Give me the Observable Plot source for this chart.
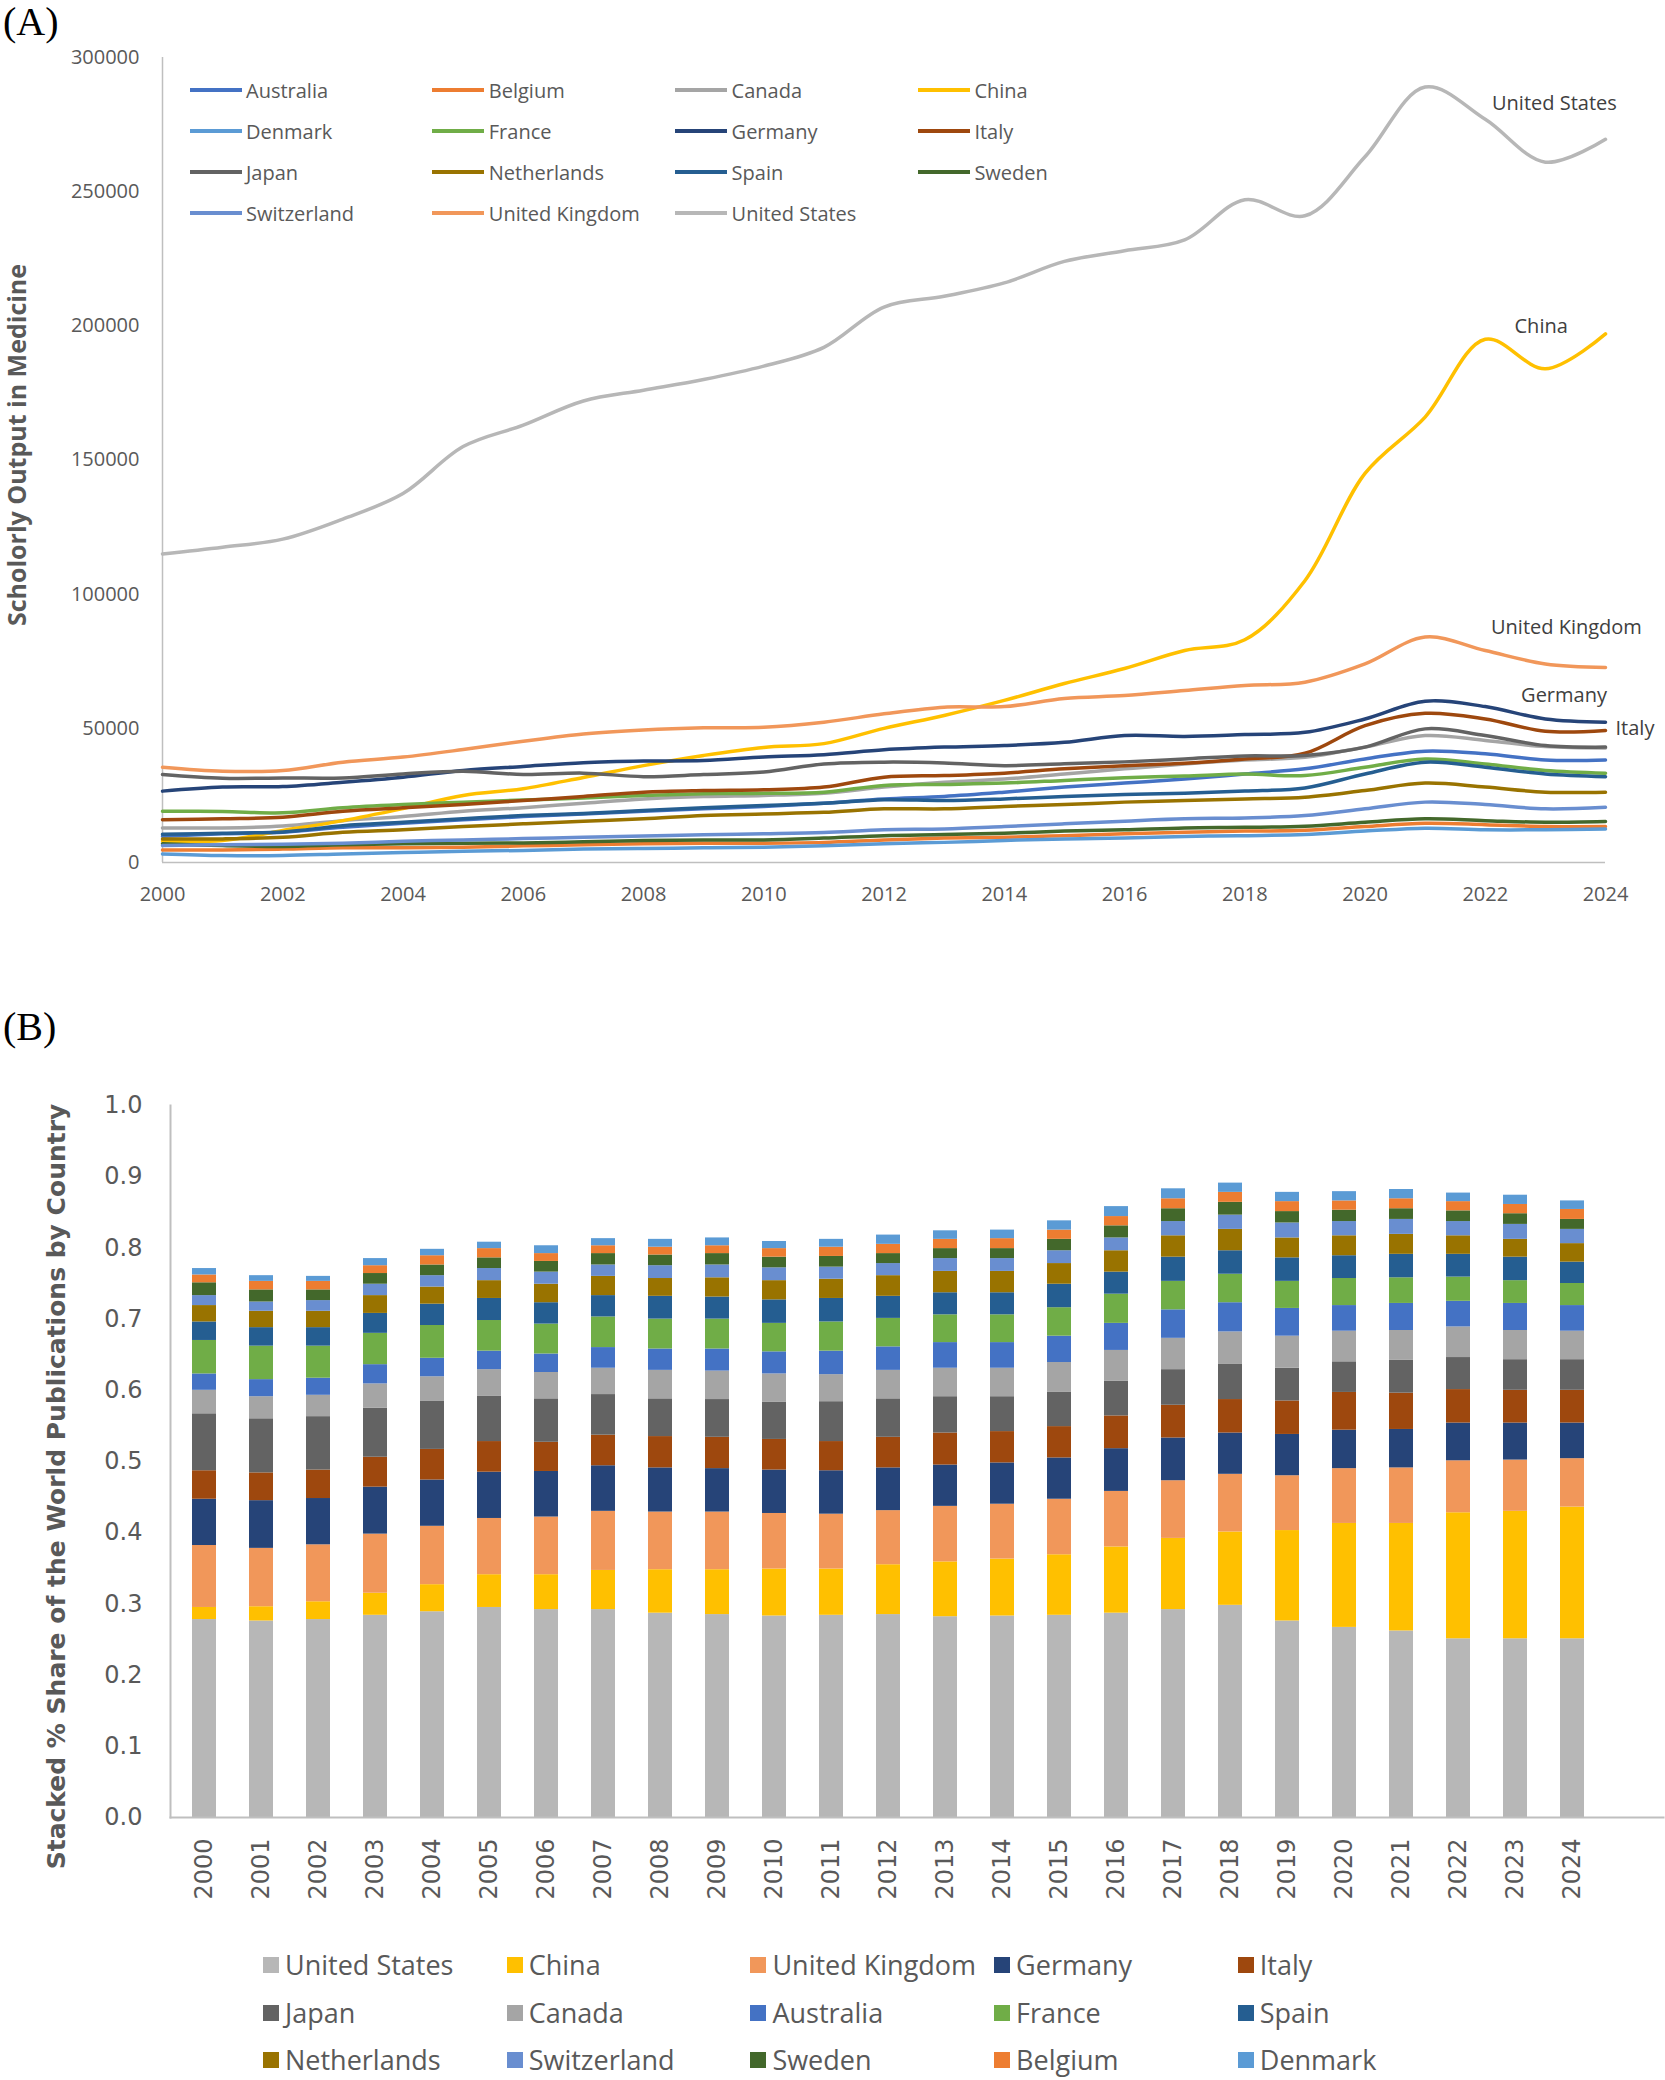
<!DOCTYPE html>
<html>
<head>
<meta charset="utf-8">
<script src="https://cdn.jsdelivr.net/npm/d3@7"></script>
<script src="https://cdn.jsdelivr.net/npm/@observablehq/plot@0.6"></script>
<style>
  body { margin: 0; background: #fff; }
  #page { position: relative; width: 1665px; height: 2080px; overflow: hidden; background: #fff; font-family: 'Open Sans', sans-serif; color: #595959; }
  .panel { position: absolute; left: 3px; font-family: 'Liberation Serif', 'Times New Roman', serif; font-size: 40px; line-height: 44px; color: #000; }
  .chart { position: absolute; left: 0; }
  .legA { position: absolute; display: flex; align-items: center; height: 30px; font-size: 20px; white-space: nowrap; color: #595959; }
  .legA .ln { display: inline-block; width: 52px; height: 3.5px; margin-right: 4.5px; }
  .legB { position: absolute; display: flex; align-items: center; height: 28px; line-height: 28px; font-size: 27px; white-space: nowrap; color: #595959; }
  .legB .sw { display: inline-block; width: 16px; height: 16px; margin-right: 6px; }
</style>
</head>
<body>
<div id="page">
  <div class="panel" style="top:0px;">(A)</div>
  <div id="chartA" class="chart" style="top:0;"></div>
  <div id="legendA"></div>
  <div class="panel" style="top:1005px;">(B)</div>
  <div id="chartB" class="chart" style="top:1060px;"></div>
  <div id="legendB"></div>
</div>
<script>
// ---------- categories ----------
const years = [2000,2001,2002,2003,2004,2005,2006,2007,2008,2009,2010,2011,2012,2013,2014,2015,2016,2017,2018,2019,2020,2021,2022,2023,2024];
const countries = ["Australia","Belgium","Canada","China","Denmark","France","Germany","Italy","Japan","Netherlands","Spain","Sweden","Switzerland","United Kingdom","United States"];
const colors = ["#4472C4","#ED7D31","#A5A5A5","#FFC000","#5B9BD5","#70AD47","#264478","#9E480E","#636363","#997300","#255E91","#43682B","#698ED0","#F1975A","#B7B7B7"];
const stackOrder = ["United States","China","United Kingdom","Germany","Italy","Japan","Canada","Australia","France","Spain","Netherlands","Switzerland","Sweden","Belgium","Denmark"];

// ---------- tick labels ----------
const xTicksA = [2000,2002,2004,2006,2008,2010,2012,2014,2016,2018,2020,2022,2024];
const yTicksA = [0,50000,100000,150000,200000,250000,300000];
const yTicksB = [0,0.1,0.2,0.3,0.4,0.5,0.6,0.7,0.8,0.9,1.0];
const yTitleA = "Scholorly Output in Medicine";
const yTitleB = "Stacked % Share of the World Publications by Country";

// ---------- (A) scholarly output in medicine ----------
const australiaOutput   = [9800,10700,11300,13100,14600,15900,17100,18100,19100,20000,20900,22100,23700,24600,26200,28100,29600,31100,33000,34900,38600,41500,40500,38200,38200];
const belgiumOutput     = [4700,4700,5000,5500,5500,5700,6200,6600,7000,7200,7200,7500,8400,9100,9400,10000,10700,11300,11700,12000,13400,14600,14100,13400,13400];
const canadaOutput      = [12900,12900,13600,15600,17100,19100,20400,22100,23700,24600,25000,25800,28100,29900,31100,33000,34900,36700,38200,39200,43000,47300,45500,43200,42700];
const chinaOutput       = [8000,8200,11900,15600,20100,25000,27500,31700,36100,39900,42900,44300,50000,54800,60400,66700,72300,79000,83000,105000,145000,166000,195000,184000,197000];
const denmarkOutput     = [3200,2600,2600,3200,3700,4200,4500,5000,5200,5500,5700,6200,7000,7500,8200,8800,9100,9700,10000,10400,11700,12800,12200,12200,12500];
const franceOutput      = [19100,19000,18500,20400,21600,22500,23300,24000,25000,25600,25800,26200,28700,29100,29600,30600,31600,32200,33000,32400,35500,38600,36700,34300,33300];
const germanyOutput     = [26600,28100,28300,29900,31800,34300,35800,37200,37800,38000,39300,40200,42000,43000,43600,44800,47300,47000,47700,48500,53500,60100,58100,53500,52300];
const italyOutput       = [15900,16300,16900,19100,20400,21600,23100,24600,26200,26800,27100,28100,31800,32400,33300,34900,36100,37000,38600,40700,51000,55600,53500,48900,49200];
const japanOutput       = [32800,31400,31500,31500,33000,34000,32800,33300,32000,32800,33700,36700,37400,37100,36100,36800,37500,38600,39700,39900,43000,49800,47300,43600,43000];
const netherlandsOutput = [8800,8800,9400,11300,12200,13400,14400,15400,16300,17500,18100,18700,20000,20000,20900,21600,22500,23100,23700,24300,26800,29600,28100,26200,26200];
const spainOutput       = [10500,10900,11400,13700,15000,16300,17500,18300,19400,20400,21200,22100,23400,23100,23700,24600,25300,25800,26600,27800,33000,37400,35500,33000,32000];
const swedenOutput      = [7000,6300,6000,6600,7000,7200,7300,7700,8200,8400,8400,9100,10000,10400,10900,11700,12200,12900,13100,13500,15000,16300,15600,15000,15300];
const switzerlandOutput = [6300,6600,6800,7200,7900,8400,8900,9400,9900,10300,10700,11200,12200,12500,13400,14400,15400,16300,16600,17500,20000,22500,21600,20000,20600];
const ukOutput          = [35500,34000,34300,37400,39300,42100,45200,47900,49400,50200,50400,52300,55400,57900,58100,61100,62200,64100,66000,67200,74000,84000,79000,74000,72700];
const usOutput          = [115000,117500,120500,128000,137500,155000,163000,172000,176000,180000,185000,192000,207000,211000,216000,224000,228000,232000,247000,241000,263000,289000,277000,261000,269500];

// end-of-line annotations (data coordinates)
const labelNames  = ["United States","China","United Kingdom","Germany","Italy"];
const labelYears  = [2023.15, 2022.93, 2023.35, 2023.31, 2024.49];
const labelValues = [282900, 199800, 87700, 62100, 49800];

// ---------- (B) share of world publications ----------
const usShare          = [.278,.276,.278,.284,.289,.295,.292,.292,.287,.285,.283,.284,.285,.282,.283,.284,.287,.292,.298,.276,.267,.262,.251,.251,.251];
const chinaShare       = [.017,.020,.025,.031,.038,.046,.049,.055,.061,.063,.066,.065,.070,.077,.080,.085,.093,.100,.103,.127,.146,.151,.177,.179,.185];
const ukShare          = [.087,.082,.080,.083,.082,.079,.081,.083,.081,.081,.078,.077,.076,.078,.077,.078,.078,.081,.081,.077,.077,.078,.073,.072,.068];
const germanyShare     = [.065,.067,.065,.066,.065,.065,.064,.064,.062,.061,.061,.061,.060,.058,.058,.058,.060,.060,.058,.058,.054,.054,.053,.052,.050];
const italyShare       = [.040,.039,.040,.042,.043,.043,.041,.043,.044,.044,.043,.041,.043,.045,.044,.044,.046,.046,.047,.047,.053,.051,.047,.046,.046];
const japanShare       = [.080,.076,.075,.069,.068,.064,.061,.057,.053,.053,.052,.056,.054,.051,.049,.048,.049,.050,.050,.046,.043,.046,.045,.043,.043];
const canadaShare      = [.033,.031,.030,.034,.034,.037,.037,.037,.040,.040,.040,.038,.040,.040,.040,.042,.043,.044,.045,.045,.043,.042,.043,.041,.040];
const australiaShare   = [.023,.024,.024,.027,.026,.026,.026,.029,.030,.031,.031,.033,.033,.036,.036,.037,.038,.040,.041,.039,.036,.038,.036,.038,.036];
const franceShare      = [.047,.047,.045,.044,.046,.043,.042,.043,.042,.042,.040,.041,.040,.039,.039,.040,.041,.040,.040,.038,.038,.036,.034,.032,.031];
const spainShare       = [.026,.026,.026,.028,.030,.031,.030,.030,.032,.031,.033,.033,.031,.031,.031,.033,.031,.034,.033,.033,.032,.033,.032,.033,.030];
const netherlandsShare = [.023,.023,.023,.025,.024,.025,.026,.027,.025,.027,.027,.027,.029,.030,.030,.029,.030,.030,.030,.028,.028,.028,.026,.025,.026];
const switzerlandShare = [.014,.013,.015,.016,.016,.017,.017,.016,.018,.018,.018,.017,.017,.018,.018,.018,.018,.020,.020,.021,.020,.021,.020,.021,.020];
const swedenShare      = [.018,.017,.015,.015,.015,.015,.015,.016,.015,.016,.015,.015,.014,.014,.014,.016,.017,.018,.018,.016,.016,.015,.015,.015,.014];
const belgiumShare     = [.011,.012,.012,.011,.013,.013,.011,.011,.011,.011,.012,.013,.013,.013,.014,.013,.013,.014,.014,.014,.013,.014,.013,.013,.014];
const denmarkShare     = [.009,.008,.007,.010,.009,.009,.011,.010,.011,.011,.010,.011,.013,.012,.012,.013,.014,.014,.013,.013,.013,.013,.012,.013,.012];

// ---------- build tables ----------
const outputSeries = new Map([
  ["Australia", australiaOutput], ["Belgium", belgiumOutput], ["Canada", canadaOutput], ["China", chinaOutput],
  ["Denmark", denmarkOutput], ["France", franceOutput], ["Germany", germanyOutput], ["Italy", italyOutput],
  ["Japan", japanOutput], ["Netherlands", netherlandsOutput], ["Spain", spainOutput], ["Sweden", swedenOutput],
  ["Switzerland", switzerlandOutput], ["United Kingdom", ukOutput], ["United States", usOutput]
]);
const shareSeries = new Map([
  ["United States", usShare], ["China", chinaShare], ["United Kingdom", ukShare], ["Germany", germanyShare],
  ["Italy", italyShare], ["Japan", japanShare], ["Canada", canadaShare], ["Australia", australiaShare],
  ["France", franceShare], ["Spain", spainShare], ["Netherlands", netherlandsShare], ["Switzerland", switzerlandShare],
  ["Sweden", swedenShare], ["Belgium", belgiumShare], ["Denmark", denmarkShare]
]);
const colorOf = new Map(countries.map((c, i) => [c, colors[i]]));

const lineData = countries.flatMap(c => years.map((yr, j) => ({country: c, year: yr, value: outputSeries.get(c)[j]})));
const labelData = labelNames.map((n, i) => ({name: n, year: labelYears[i], value: labelValues[i]}));
const shareData = years.flatMap((yr, j) => stackOrder.map(c => ({country: c, year: yr, share: shareSeries.get(c)[j]})));

// ---------- chart A ----------
const chartA = Plot.plot({
  width: 1665, height: 920,
  marginTop: 57, marginBottom: 58, marginLeft: 162, marginRight: 60,
  style: {fontFamily: "'Open Sans', sans-serif", fontSize: "20px", background: "transparent", overflow: "visible"},
  x: {domain: [2000, 2024]},
  y: {domain: [0, 300000]},
  color: {domain: countries, range: colors},
  marks: [
    Plot.ruleX([2000], {stroke: "#BFBFBF", strokeWidth: 1.5}),
    Plot.ruleY([0], {stroke: "#BFBFBF", strokeWidth: 1.5}),
    Plot.axisX({ticks: xTicksA, tickSize: 0, tickPadding: 24, tickFormat: d => String(d), fill: "#595959", label: null}),
    Plot.axisY({ticks: yTicksA, tickSize: 0, tickPadding: 23, tickFormat: d => String(d), fill: "#595959", label: null}),
    Plot.line(lineData, {x: "year", y: "value", z: "country", stroke: "country", strokeWidth: 3.5, curve: "catmull-rom"}),
    Plot.text(labelData, {x: "year", y: "value", text: "name", fill: "#404040", fontSize: 20}),
    Plot.text([yTitleA], {text: d => d, frameAnchor: "left", textAnchor: "middle", rotate: -90, dx: -145, dy: -15, fontSize: 25, fontWeight: "bold", fill: "#595959"})
  ]
});
document.getElementById("chartA").appendChild(chartA);

// legend A (4 columns, series order)
const legA = document.getElementById("legendA");
countries.forEach((c, i) => {
  const col = i % 4, row = Math.floor(i / 4);
  const d = document.createElement("div");
  d.className = "legA";
  d.style.left = (189.5 + col * 242.8) + "px";
  d.style.top = (90 + row * 41 - 15) + "px";
  d.innerHTML = `<span class="ln" style="background:${colorOf.get(c)}"></span><span>${c}</span>`;
  legA.appendChild(d);
});

// ---------- chart B ----------
const chartB = Plot.plot({
  width: 1665, height: 860,
  marginTop: 45, marginBottom: 103, marginLeft: 170, marginRight: 2,
  style: {fontFamily: "'DejaVu Sans', sans-serif", fontSize: "24px", background: "transparent", overflow: "visible"},
  x: {type: "band", domain: years, range: [170.5, 1605], paddingInner: 0.58, paddingOuter: 0.29},
  y: {domain: [0, 1]},
  color: {domain: countries, range: colors},
  marks: [
    Plot.barY(shareData, {x: "year", y: "share", fill: "country"}),
    Plot.frame({anchor: "left", stroke: "#BFBFBF", strokeWidth: 2}),
    Plot.frame({anchor: "bottom", stroke: "#BFBFBF", strokeWidth: 2}),
    Plot.axisX({tickRotate: -90, tickSize: 0, tickPadding: 21, tickFormat: d => String(d), fill: "#595959", label: null}),
    Plot.axisY({ticks: yTicksB, tickFormat: d => d.toFixed(1), tickSize: 0, tickPadding: 28, fill: "#595959", label: null}),
    Plot.text([yTitleB], {text: d => d, frameAnchor: "left", textAnchor: "middle", rotate: -90, dx: -114, dy: 25, fontSize: 25, fontWeight: "bold", fill: "#595959"})
  ]
});
document.getElementById("chartB").appendChild(chartB);

// legend B (5 columns, stack order)
const legB = document.getElementById("legendB");
stackOrder.forEach((c, i) => {
  const col = i % 5, row = Math.floor(i / 5);
  const d = document.createElement("div");
  d.className = "legB";
  d.style.left = (263 + col * 243.7) + "px";
  d.style.top = (1965 + row * 47.5 - 14) + "px";
  d.innerHTML = `<span class="sw" style="background:${colorOf.get(c)}"></span><span>${c}</span>`;
  legB.appendChild(d);
});
</script>
</body>
</html>
